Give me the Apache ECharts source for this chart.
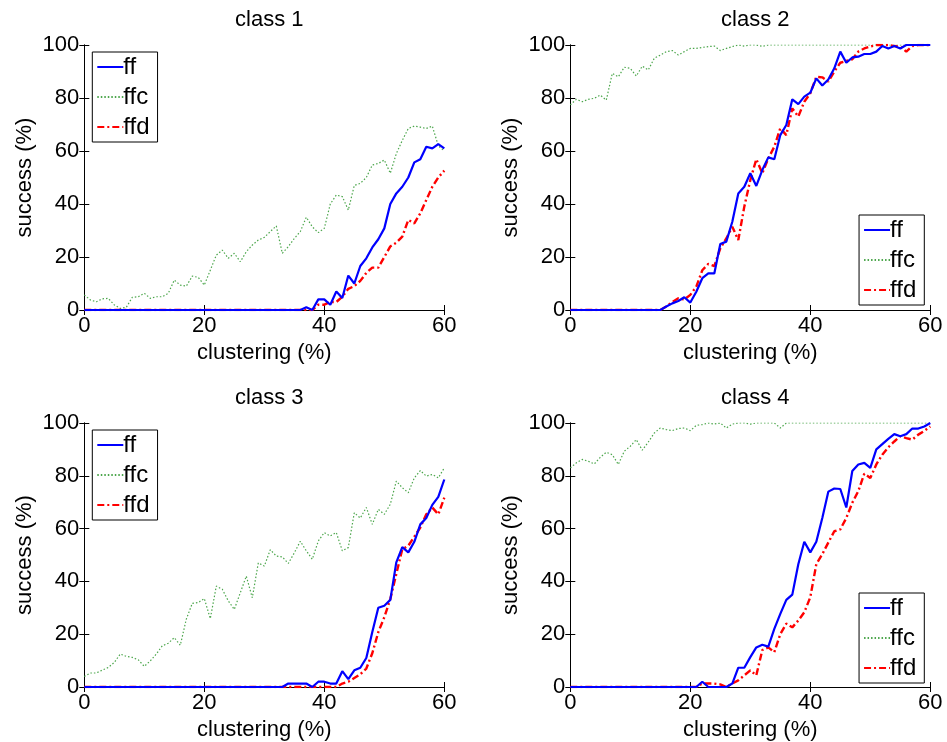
<!DOCTYPE html>
<html>
<head>
<meta charset="utf-8">
<script src="https://cdn.jsdelivr.net/npm/echarts@6/dist/echarts.min.js"></script>
<style>
  html, body { margin: 0; padding: 0; background: #fff; }
  #chart { width: 947px; height: 742px; }
</style>
</head>
<body>
<div id="chart"></div>
<script>
// clustering (%) values along x, 0..60 step 1
var clustering = [];
for (var i = 0; i <= 60; i++) clustering.push(i);

var classNames = ["class 1", "class 2", "class 3", "class 4"];

// class 1
var c1_ff = [0,0,0,0,0,0,0,0,0,0, 0,0,0,0,0,0,0,0,0,0, 0,0,0,0,0,0,0,0,0,0, 0,0,0,0,0,0,
  0,1,0,4,4,2,7,4.5,13,10,16.6,19.5,23.6,26.7,30.8,40,44,46.5,50,55.7,56.9,61.6,61,62.6,61];
var c1_ffc = [5.7,3.8,3.1,4.2,4.4,1.9,0.6,1,4.8,5,6.3,4.4,5,5,6.3,11.3,9.4,9,12.8,12.3,9.4,15,20.7,22.6,19.5,21.4,18.2,22,24.5,26.4,27.4,29.6,31.7,21.4,23.9,27,29.6,
  35,31.4,29.2,30.8,40,43.4,42.8,37.7,47,47.8,50,54.7,55.3,56.6,51.6,59,64,68.5,69.4,69,68.5,69.4,62,60];
var c1_ffd = [0,0,0,0,0,0,0,0,0,0, 0,0,0,0,0,0,0,0,0,0, 0,0,0,0,0,0,0,0,0,0, 0,0,0,0,0,0,0,0,0,
  2,2,3,3,5,8,9,11,14,16,16,20,24,25.4,27.7,34,32.7,36.5,41.5,46.5,50,52.6];

// class 2
var c2_ff = [0,0,0,0,0,0,0,0,0,0, 0,0,0,0,0,0,
  1.3,2.5,3.4,4.8,2.8,6.9,12,13.8,13.8,24.9,25.8,33.3,44,46.5,51.6,46.8,52.8,57.6,56.9,66,
  69.8,79.5,77.7,80.5,82,87.4,84.7,87,91.2,97.5,93.3,95.3,95.6,96.6,96.6,97.5,99.6,98.7,99.6,98.7,100,100,100,100,100];
var c2_ffc = [77.4,79.5,78.6,79.5,79.9,81.1,79.2,89.3,88,91.6,91.2,88.3,92,90.6,95,96.2,97.5,97.9,96.2,97.5,98.7,98.7,99.1,99.4,99.6,97.9,98.7,99.4,
  100,99.6,100,100,99.5,100,100,100,100,100,100,100,100,100,100,100,100,100,100,100,100,100,100,100,100,100,100,100,100,100,100,100,100];
var c2_ffd = [0,0,0,0,0,0,0,0,0,0, 0,0,0,0,0,0,
  1.3,3,4.4,4,5.7,8.8,15,17.4,16.6,23.3,27,31.4,26.4,39,49,56.9,51.6,57.2,61.6,68.6,
  66,76.1,73,78.6,81.8,88,87.8,86.2,90,93.3,94,94.6,97.5,98.7,99.4,100,100,100,99.6,99.4,97.5,99.6,100,100,100];

// class 3
var c3_ff = [0,0,0,0,0,0,0,0,0,0, 0,0,0,0,0,0,0,0,0,0, 0,0,0,0,0,0,0,0,0,0, 0,0,0,0,
  1.3,1.3,1.3,1.3,0,2,2,1.3,1.3,6,3,6.3,7.3,11,20.8,30,30.8,33,47.2,53,51,55,61.6,64,69,72,78.6];
var c3_ffc = [4,5.3,5.3,6.4,7.4,9.3,12.5,11.6,11.2,10.3,7.8,9.9,12.5,15.6,16.6,18.7,15.8,25.7,31.7,32,33.5,25.9,38.2,37,32.6,29.4,35.7,42,33.8,47,45.8,52,49.6,49.3,46.8,50.8,55.2,
  51.6,48.4,55.3,58.5,57.2,58.5,51.6,52.8,66,64,68,61.6,67.3,65.4,69.2,78,75.5,73.6,79.2,82,79.9,80.5,79.2,83];
var c3_ffd = [0,0,0,0,0,0,0,0,0,0, 0,0,0,0,0,0,0,0,0,0, 0,0,0,0,0,0,0,0,0,0, 0,0,0,0,0,0,0,0,0,0, 0,0,0,
  1.3,2,3.4,4.8,7,12.8,20.8,26.4,33.3,42.8,52.2,53.5,56.9,60.4,65.4,68,65.4,71.7];

// class 4
var c4_ff = [0,0,0,0,0,0,0,0,0,0, 0,0,0,0,0,0,0,0,0,0, 0,
  0,2,0,0,0,0,1.3,7.3,7.3,11.3,15,16,15.3,22,27.7,33,35,46.5,55,51,
  55,64,74,75.2,75,68,81.8,84.3,84.9,83,90,92,94,95.8,95,95.8,97.9,97.9,98.7,100];
var c4_ffc = [83,84.9,86.2,85.5,84.5,87,88.9,88,84.3,89.3,91.2,93.7,89.7,92.8,96.2,98.1,97.5,97.1,97.9,98.1,97.1,99.1,99.4,
  100,99.6,100,98.1,99.6,100,100,99.6,100,100,100,100,98.1,100,100,100,100,100,100,100,100,100,100,100,100,100,100,100,100,100,100,100,100,100,100,100,100,100];
var c4_ffd = [0,0,0,0,0,0,0,0,0,0, 0,0,0,0,0,0,0,0,0,0, 0,0,
  1.3,1.3,1.3,1,0,1.3,2.5,4.4,6.3,4.4,14,15,13.2,20,24,22.6,25.2,28.3,34,46.5,
  50.3,54.7,59,59.7,64,69.8,74.2,80.8,79.2,84.3,88,90.8,93,95,94.3,93.7,95.6,97,98.7];

var ffData = [c1_ff, c2_ff, c3_ff, c4_ff];
var ffcData = [c1_ffc, c2_ffc, c3_ffc, c4_ffc];
var ffdData = [c1_ffd, c2_ffd, c3_ffd, c4_ffd];

var FONT = "Liberation Sans, Arial, Helvetica, sans-serif";
var FS = 22;

// plot boxes [left, top]
var boxes = [[84.3, 45], [570.3, 45], [84.3, 423], [570.3, 423]];
var boxW = 360, boxH = 265;

function pairs(arr) {
  return arr.map(function (v, i) { return [clustering[i], v]; });
}

var option = {
  animation: false,
  backgroundColor: "#fff",
  title: [],
  grid: [],
  xAxis: [],
  yAxis: [],
  legend: [],
  series: []
};

boxes.forEach(function (b, k) {
  option.grid.push({ left: b[0], top: b[1], width: boxW, height: boxH, containLabel: false });
  option.title.push({
    text: classNames[k],
    left: b[0] + boxW / 2,
    top: b[1] - 41,
    textAlign: "center",
    textStyle: { fontFamily: FONT, fontSize: FS, fontWeight: "normal", color: "#000" }
  });
  var tickStyle = { show: true, inside: true, length: 5, lineStyle: { color: "#000" } };
  // bottom x axis
  option.xAxis.push({
    type: "value", gridIndex: k, min: 0, max: 60, interval: 20,
    name: "clustering (%)", nameLocation: "middle", nameGap: 32,
    nameTextStyle: { fontFamily: FONT, fontSize: FS, color: "#000" },
    axisLine: { show: true, lineStyle: { color: "#000", width: 1 } },
    axisTick: tickStyle,
    axisLabel: { fontFamily: FONT, fontSize: FS, color: "#000", margin: 5 },
    splitLine: { show: false }
  });
  // top x axis (ticks only)
  option.xAxis.push({
    type: "value", gridIndex: k, min: 0, max: 60, interval: 20, position: "top",
    axisLine: { show: true, lineStyle: { color: "#000", width: 1 } },
    axisTick: tickStyle, axisLabel: { show: false }, splitLine: { show: false }
  });
  option.yAxis.push({
    type: "value", gridIndex: k, min: 0, max: 100, interval: 20,
    name: "success (%)", nameLocation: "middle", nameGap: 48,
    nameTextStyle: { fontFamily: FONT, fontSize: FS, color: "#000" },
    axisLine: { show: true, lineStyle: { color: "#000", width: 1 } },
    axisTick: tickStyle,
    axisLabel: { fontFamily: FONT, fontSize: FS, color: "#000", margin: 5 },
    splitLine: { show: false }
  });
  option.yAxis.push({
    type: "value", gridIndex: k, min: 0, max: 100, interval: 20, position: "right",
    axisLine: { show: true, lineStyle: { color: "#000", width: 1 } },
    axisTick: tickStyle, axisLabel: { show: false }, splitLine: { show: false }
  });

  var legendPos = (k % 2 === 0)
    ? { left: b[0] + 8, top: b[1] + 7 }
    : { right: 947 - (b[0] + boxW - 6), bottom: 742 - (b[1] + boxH - 5) };
  option.legend.push(Object.assign({
    orient: "vertical",
    data: ["ff", "ffc", "ffd"],
    backgroundColor: "#fff",
    borderColor: "#000",
    borderWidth: 1,
    borderRadius: 0,
    padding: [3, 8, 3, 4],
    itemGap: 6,
    itemWidth: 26,
    itemHeight: 14,
    selectedMode: false,
    itemStyle: { opacity: 0 },
    textStyle: { fontFamily: FONT, fontSize: 24, color: "#000", padding: [0, 0, 0, -5] }
  }, legendPos));

  option.series.push({
    name: "ffc", type: "line", xAxisIndex: 2 * k, yAxisIndex: 2 * k,
    data: pairs(ffcData[k]), symbol: "none", z: 2,
    lineStyle: { color: "#4ca64c", width: 1.2, type: [1.5, 2] },
    itemStyle: { color: "#4ca64c", opacity: 0 }
  });
  option.series.push({
    name: "ffd", type: "line", xAxisIndex: 2 * k, yAxisIndex: 2 * k,
    data: pairs(ffdData[k]), symbol: "none", z: 3,
    lineStyle: { color: "#ff0000", width: 2.4, type: [7, 3, 2, 3] },
    itemStyle: { color: "#ff0000", opacity: 0 }
  });
  option.series.push({
    name: "ff", type: "line", xAxisIndex: 2 * k, yAxisIndex: 2 * k,
    data: pairs(ffData[k]), symbol: "none", z: 4,
    lineStyle: { color: "#0000ff", width: 2.2 },
    itemStyle: { color: "#0000ff", opacity: 0 }
  });
});

var chart = echarts.init(document.getElementById("chart"));
chart.setOption(option);
</script>
</body>
</html>
